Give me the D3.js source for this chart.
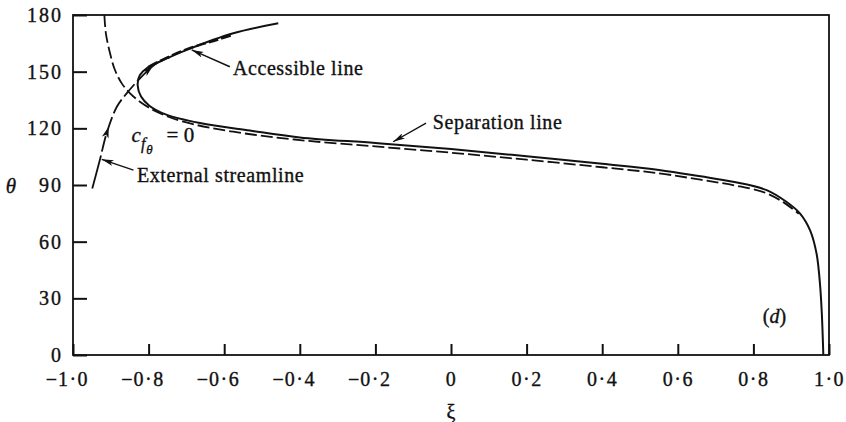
<!DOCTYPE html>
<html>
<head>
<meta charset="utf-8">
<script src="https://cdn.jsdelivr.net/npm/d3@7"></script>
<style>
  body { margin: 0; background: #fff; }
  svg text { font-family: "Liberation Serif", "DejaVu Serif", serif !important; fill: #111; stroke: #111; stroke-width: 0.35px; }
</style>
</head>
<body>
<svg id="chart" width="846" height="422" font-family="Liberation Serif"></svg>
<script>
const xTicks = [-1, -0.8, -0.6, -0.4, -0.2, 0, 0.2, 0.4, 0.6, 0.8, 1]
const yTicks = [0, 30, 60, 90, 120, 150, 180]

// c_f_theta = 0 curve: from its upper end, round the nose, down to the right edge
const solidXi    = [-0.457, -0.576, -0.699, -0.770, -0.805, -0.823, -0.829, -0.820, -0.798, -0.755, -0.664, -0.532, -0.40, -0.20, 0.0, 0.20, 0.40, 0.55, 0.66, 0.746, 0.835, 0.888, 0.923, 0.950, 0.967, 0.976, 0.981, 0.985]
const solidTheta = [175.6, 170.3, 161.5, 155.3, 151.8, 148.2, 142.9, 136.8, 132.0, 127.4, 122.8, 118.8, 115.2, 112.2, 109.0, 105.2, 101.2, 98.0, 94.6, 91.7, 87.3, 81.0, 75.0, 66.0, 53.8, 38.0, 22.0, 0]

// separation line (dashed)
const dashXi    = [-0.917, -0.913, -0.902, -0.889, -0.871, -0.849, -0.823, -0.779, -0.708, -0.576, -0.40, -0.20, 0.0, 0.20, 0.40, 0.55, 0.66, 0.75, 0.83, 0.88, 0.92]
const dashTheta = [180, 170.3, 159.7, 150.9, 143.8, 138.5, 134.1, 128.8, 123.5, 118.2, 113.8, 110.4, 107.1, 103.4, 99.4, 96.2, 92.8, 89.8, 86.0, 80.8, 74.8]

// external streamline
const streamXi    = [-0.949, -0.929, -0.911, -0.884, -0.858, -0.831, -0.805, -0.779, -0.745]
const streamTheta = [88.2, 103.2, 117.4, 131.4, 138.5, 144.7, 150.0, 154.4, 157.6]

// accessible line, lying on the upper branch
const accessXi    = [-0.80, -0.77, -0.70, -0.62, -0.58]
const accessTheta = [152.6, 155.6, 161.8, 166.8, 169.3]

// labels with pointer arrows: text start, arrow tail, arrow tip (data units)
const notes = [
    { text: "Accessible line",     xi: -0.577, th: 148.2, from: [-0.585, 152.6], to: [-0.686, 161.5] },
    { text: "Separation line",     xi: -0.048, th: 119.9, from: [-0.066, 122.7], to: [-0.153, 112.9] },
    { text: "External streamline", xi: -0.831, th: 91.7,  from: [-0.840, 97.9],  to: [-0.924, 103.6] }
]

const svg = d3.select("#chart")
const FONT = "Liberation Serif, DejaVu Serif, serif"

const x = d3.scaleLinear().domain([-1, 1]).range([73, 829])
const y = d3.scaleLinear().domain([0, 180]).range([355, 15])

const defs = svg.append("defs")
defs.append("marker")
    .attr("id", "head")
    .attr("markerUnits", "userSpaceOnUse")
    .attr("viewBox", "0 0 12 6")
    .attr("refX", 12).attr("refY", 3)
    .attr("markerWidth", 12).attr("markerHeight", 6)
    .attr("orient", "auto")
  .append("path")
    .attr("d", "M0,0 L12,3 L0,6 L3,3 z")
    .attr("fill", "#111")

const fmt = d => d === 0 ? "0" : Math.abs(d).toFixed(1).replace(".", "·")

// x axis, ticks pointing inward
const gx = svg.append("g")
    .attr("transform", `translate(0,${y(0)})`)
    .call(d3.axisBottom(x).tickValues(xTicks).tickSize(-11).tickPadding(17).tickFormat(fmt))
gx.attr("font-family", FONT).attr("font-size", 20)
gx.select(".domain").remove()
gx.selectAll(".tick line").attr("stroke", "#111").attr("stroke-width", 2)
gx.selectAll(".tick text")
    .attr("fill", "#111")
    .style("letter-spacing", "1.5px")
gx.selectAll(".tick").each(function(d) {
    if (d >= 0) return
    const t = d3.select(this).select("text")
    const w = t.node().getComputedTextLength()
    d3.select(this).append("text")
        .attr("x", -w / 2 - 1).attr("y", t.attr("y")).attr("dy", t.attr("dy"))
        .attr("text-anchor", "end").attr("fill", "#111")
        .text("−")
})

// y axis
const gy = svg.append("g")
    .attr("transform", `translate(${x(-1)},0)`)
    .call(d3.axisLeft(y).tickValues(yTicks).tickSize(-14).tickPadding(10))
gy.attr("font-family", FONT).attr("font-size", 20)
gy.select(".domain").remove()
gy.selectAll(".tick line").attr("stroke", "#111").attr("stroke-width", 2)
gy.selectAll(".tick text")
    .attr("fill", "#111")
    .style("letter-spacing", "2px")

// frame
svg.append("rect")
    .attr("x", x(-1)).attr("y", y(180))
    .attr("width", x(1) - x(-1)).attr("height", y(0) - y(180))
    .attr("fill", "none").attr("stroke", "#111").attr("stroke-width", 1.8)

const line = d3.line()
    .x(d => x(d[0])).y(d => y(d[1]))
    .curve(d3.curveCatmullRom.alpha(0.5))

const zip = (a, b) => a.map((v, i) => [v, b[i]])

svg.append("path")
    .attr("d", line(zip(dashXi, dashTheta)))
    .attr("fill", "none").attr("stroke", "#111").attr("stroke-width", 1.8)
    .attr("stroke-dasharray", "12,4")

svg.append("path")
    .attr("d", line(zip(solidXi, solidTheta)))
    .attr("fill", "none").attr("stroke", "#111").attr("stroke-width", 2)

svg.append("path")
    .attr("d", line(zip(accessXi, accessTheta)))
    .attr("fill", "none").attr("stroke", "#111").attr("stroke-width", 2.5)
    .attr("stroke-dasharray", "10,3")

const stream = svg.append("path")
    .attr("d", line(zip(streamXi, streamTheta)))
    .attr("fill", "none").attr("stroke", "#111").attr("stroke-width", 1.8)
    .attr("stroke-dasharray", "34,4,16,4,16,4,16,4,16,4")

// arrowheads along the streamline
const sNode = stream.node()
const sLen = sNode.getTotalLength()
;[0.40, 0.88].forEach(f => {
    const p = sNode.getPointAtLength(sLen * f)
    const q = sNode.getPointAtLength(sLen * f - 2)
    const a = Math.atan2(p.y - q.y, p.x - q.x) * 180 / Math.PI
    svg.append("path")
        .attr("d", "M0,0 L-11,-3.5 L-8,0 L-11,3.5 z")
        .attr("transform", `translate(${p.x},${p.y}) rotate(${a})`)
        .attr("fill", "#111")
})

// annotations
notes.forEach(n => {
    svg.append("line")
        .attr("x1", x(n.from[0])).attr("y1", y(n.from[1]))
        .attr("x2", x(n.to[0])).attr("y2", y(n.to[1]))
        .attr("stroke", "#111").attr("stroke-width", 1.4)
        .attr("marker-end", "url(#head)")
    svg.append("text")
        .attr("x", x(n.xi)).attr("y", y(n.th))
        .attr("font-family", FONT).attr("font-size", 20)
        .style("letter-spacing", "0.6px")
        .text(n.text)
})

// c_f_theta = 0
const cf = svg.append("text")
    .attr("x", x(-0.845)).attr("y", y(112.9))
    .attr("font-family", FONT).attr("font-size", 21)
cf.append("tspan").attr("font-style", "italic").text("c")
cf.append("tspan").attr("font-style", "italic").attr("font-size", 16).attr("dy", 7).attr("dx", 0).text("f")
cf.append("tspan").attr("font-style", "italic").attr("font-size", 13).attr("dy", 5).attr("dx", 1).text("θ")
cf.append("tspan").attr("x", x(-0.845) + 35).attr("dy", -12).text("= 0")

svg.append("text")
    .attr("x", x(0.825)).attr("y", y(16.9))
    .attr("font-family", FONT).attr("font-size", 20)
    .html('(<tspan font-style="italic">d</tspan>)')

// axis titles
svg.append("text")
    .attr("x", 11).attr("y", y(90) + 8)
    .attr("text-anchor", "middle").attr("font-size", 21).attr("font-style", "italic")
    .attr("font-family", FONT)
    .text("θ")

svg.append("text")
    .attr("x", x(0)).attr("y", 419)
    .attr("text-anchor", "middle").attr("font-size", 20)
    .attr("font-family", FONT)
    .text("ξ")
</script>
</body>
</html>
